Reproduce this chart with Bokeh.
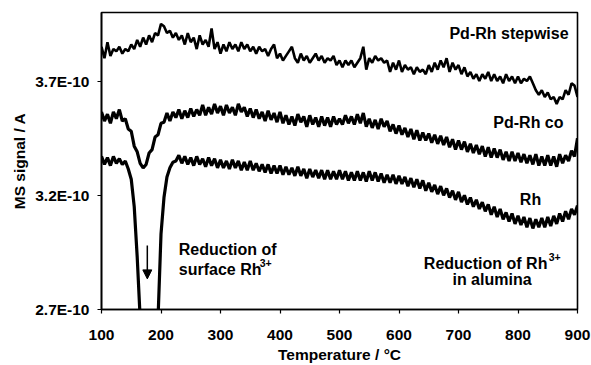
import numpy as np
from bokeh.plotting import figure
from bokeh.models import Range1d, FixedTicker, CustomJSTickFormatter, Label, Arrow, NormalHead
from bokeh.embed import file_html
from bokeh.resources import INLINE

# Temperature axis (°C), 5 °C steps
temperature = list(range(100, 905, 5))

# MS signal in units of 1E-10 A
stepwise_e10 = [
    3.85, 3.80, 3.87, 3.81, 3.84, 3.83, 3.85, 3.82, 3.84, 3.83,
    3.86, 3.84, 3.88, 3.85, 3.89, 3.86, 3.90, 3.87, 3.91, 3.90,
    3.95, 3.94, 3.91, 3.92, 3.89, 3.91, 3.88, 3.90, 3.86, 3.91,
    3.87, 3.89, 3.84, 3.90, 3.86, 3.88, 3.85, 3.93, 3.84, 3.87,
    3.82, 3.86, 3.83, 3.87, 3.84, 3.86, 3.83, 3.87, 3.84, 3.86,
    3.83, 3.85, 3.82, 3.85, 3.83, 3.84, 3.81, 3.84, 3.86, 3.80,
    3.82, 3.79, 3.81, 3.83, 3.85, 3.80, 3.78, 3.82, 3.79, 3.81,
    3.78, 3.80, 3.82, 3.79, 3.81, 3.78, 3.80, 3.79, 3.81, 3.77,
    3.79, 3.76, 3.79, 3.77, 3.79, 3.76, 3.78, 3.80, 3.85, 3.75,
    3.80, 3.78, 3.81, 3.79, 3.80, 3.78, 3.79, 3.74, 3.78, 3.75,
    3.79, 3.74, 3.77, 3.75, 3.76, 3.73, 3.76, 3.74, 3.75, 3.73,
    3.77, 3.74, 3.78, 3.75, 3.79, 3.76, 3.80, 3.74, 3.78, 3.75,
    3.77, 3.73, 3.76, 3.72, 3.74, 3.71, 3.73, 3.70, 3.73, 3.71,
    3.74, 3.70, 3.73, 3.70, 3.72, 3.69, 3.73, 3.70, 3.72, 3.69,
    3.72, 3.69, 3.71, 3.70, 3.72, 3.69, 3.66, 3.64, 3.66, 3.63,
    3.65, 3.62, 3.63, 3.60, 3.63, 3.62, 3.66, 3.64, 3.69, 3.68,
    3.63,
]

co_e10 = [
    3.565, 3.525, 3.555, 3.515, 3.565, 3.535, 3.575, 3.525, 3.535, 3.49,
    3.48, 3.415, 3.39, 3.34, 3.32, 3.335, 3.385, 3.40, 3.455, 3.465,
    3.515, 3.52, 3.56, 3.525, 3.565, 3.54, 3.575, 3.535, 3.57, 3.54,
    3.58, 3.545, 3.575, 3.55, 3.595, 3.55, 3.585, 3.555, 3.60, 3.56,
    3.59, 3.55, 3.595, 3.56, 3.585, 3.55, 3.60, 3.565, 3.585, 3.545,
    3.58, 3.54, 3.575, 3.535, 3.565, 3.525, 3.57, 3.53, 3.56, 3.52,
    3.565, 3.515, 3.55, 3.51, 3.545, 3.505, 3.555, 3.52, 3.545, 3.50,
    3.55, 3.51, 3.54, 3.50, 3.545, 3.505, 3.54, 3.50, 3.545, 3.51,
    3.535, 3.51, 3.55, 3.515, 3.545, 3.51, 3.555, 3.515, 3.56, 3.50,
    3.535, 3.495, 3.53, 3.49, 3.535, 3.50, 3.525, 3.48, 3.51, 3.47,
    3.505, 3.465, 3.495, 3.455, 3.49, 3.445, 3.485, 3.44, 3.475, 3.44,
    3.47, 3.43, 3.465, 3.425, 3.46, 3.42, 3.455, 3.41, 3.445, 3.40,
    3.44, 3.40, 3.435, 3.39, 3.425, 3.385, 3.42, 3.38, 3.415, 3.37,
    3.41, 3.365, 3.405, 3.365, 3.40, 3.355, 3.39, 3.35, 3.39, 3.35,
    3.385, 3.345, 3.38, 3.34, 3.375, 3.335, 3.38, 3.33, 3.37, 3.33,
    3.375, 3.33, 3.37, 3.325, 3.38, 3.34, 3.375, 3.35, 3.395, 3.37,
    3.45,
]

rh_e10 = [
    3.37, 3.335, 3.365, 3.33, 3.37, 3.34, 3.36, 3.335, 3.35, 3.315,
    3.27, 3.15, 2.93, 2.66, 2.30, 2.20, 2.15, 2.20, 2.30, 2.66,
    3.03, 3.19, 3.28, 3.32, 3.345, 3.35, 3.375, 3.34, 3.37, 3.335,
    3.365, 3.33, 3.37, 3.335, 3.36, 3.325, 3.365, 3.33, 3.36, 3.32,
    3.355, 3.32, 3.35, 3.315, 3.355, 3.32, 3.35, 3.31, 3.345, 3.31,
    3.35, 3.31, 3.34, 3.305, 3.335, 3.30, 3.335, 3.295, 3.33, 3.295,
    3.33, 3.29, 3.325, 3.29, 3.32, 3.285, 3.325, 3.285, 3.315, 3.275,
    3.315, 3.28, 3.31, 3.275, 3.31, 3.27, 3.31, 3.27, 3.305, 3.27,
    3.31, 3.27, 3.305, 3.265, 3.30, 3.265, 3.305, 3.265, 3.30, 3.26,
    3.305, 3.265, 3.30, 3.26, 3.295, 3.255, 3.29, 3.255, 3.29, 3.25,
    3.285, 3.25, 3.28, 3.24, 3.275, 3.235, 3.27, 3.23, 3.265, 3.22,
    3.255, 3.215, 3.245, 3.205, 3.24, 3.20, 3.23, 3.19, 3.22, 3.18,
    3.215, 3.17, 3.20, 3.16, 3.19, 3.15, 3.18, 3.14, 3.17, 3.13,
    3.16, 3.115, 3.15, 3.105, 3.14, 3.095, 3.125, 3.085, 3.12, 3.075,
    3.11, 3.07, 3.105, 3.06, 3.10, 3.055, 3.095, 3.06, 3.10, 3.06,
    3.105, 3.065, 3.11, 3.075, 3.12, 3.085, 3.13, 3.095, 3.14, 3.115,
    3.155,
]

y_ticks_e10 = [2.7, 3.2, 3.7]
x_ticks = [100, 200, 300, 400, 500, 600, 700, 800, 900]

E = 1e-10
x = np.array(temperature, dtype=float)
s_step = np.array(stepwise_e10) * E
s_co = np.array(co_e10) * E
s_rh = np.array(rh_e10) * E

FONT = "Liberation Sans"
FS = "15.5px"
FA = "16px"

p = figure(width=591, height=365, output_backend="svg", toolbar_location=None,
           x_range=Range1d(100, 900), y_range=Range1d(2.7e-10, 4.0e-10),
           min_border_left=101, min_border_right=14, min_border_top=12,
           min_border_bottom=52)
p.background_fill_color = "white"
p.border_fill_color = "white"
p.outline_line_color = "black"
p.outline_line_width = 1.6
p.xgrid.visible = False
p.ygrid.visible = False

p.line(x, s_step, line_color="black", line_width=2.6)
p.line(x, s_co, line_color="black", line_width=3.2)
p.line(x, s_rh, line_color="black", line_width=3.2)

for ax in (p.xaxis[0], p.yaxis[0]):
    ax.axis_line_color = "black"
    ax.axis_line_width = 1.6
    ax.major_tick_line_color = "black"
    ax.major_tick_line_width = 1.2
    ax.major_tick_in = 0
    ax.major_tick_out = 4
    ax.minor_tick_line_color = None
    ax.major_label_text_font = FONT
    ax.major_label_text_font_style = "bold"
    ax.major_label_text_font_size = FS
    ax.major_label_text_color = "black"
    ax.axis_label_text_font = FONT
    ax.axis_label_text_font_style = "bold"
    ax.axis_label_text_font_size = FS
    ax.axis_label_text_color = "black"

p.xaxis.ticker = FixedTicker(ticks=x_ticks)
p.xaxis.major_label_standoff = 16
p.xaxis.axis_label = "Temperature / °C"
p.xaxis.axis_label_standoff = 3

p.yaxis.ticker = FixedTicker(ticks=[v * E for v in y_ticks_e10])
p.yaxis.formatter = CustomJSTickFormatter(code="return (tick*1e10).toFixed(1) + 'E-10';")
p.yaxis.major_label_standoff = 8
p.yaxis.axis_label = "MS signal / A"
p.yaxis.axis_label_standoff = 4

def lab(xv, yv, txt, align="left", size=FA):
    p.add_layout(Label(x=xv, y=yv, text=txt, text_font=FONT, text_font_style="bold",
                       text_font_size=size, text_align=align, text_baseline="alphabetic",
                       text_color="black"))

lab(885, 3.910 * E, "Pd-Rh stepwise", align="right")
lab(876.5, 3.520 * E, "Pd-Rh co", align="right")
lab(821, 3.182 * E, "Rh", align="center")
lab(641.8, 2.901 * E, "Reduction of Rh")
lab(851.5, 2.928 * E, "3+", size="10.5px")
lab(756.3, 2.830 * E, "in alumina", align="center")
lab(229.9, 2.962 * E, "Reduction of")
lab(229.9, 2.876 * E, "surface Rh")
lab(366, 2.905 * E, "3+", size="10.5px")

p.add_layout(Arrow(end=NormalHead(size=9, fill_color="black", line_color="black"),
                   x_start=177, y_start=2.98 * E, x_end=177, y_end=2.834 * E,
                   line_width=1.5, line_color="black"))

open("out.html", "w").write(file_html(p, INLINE))
